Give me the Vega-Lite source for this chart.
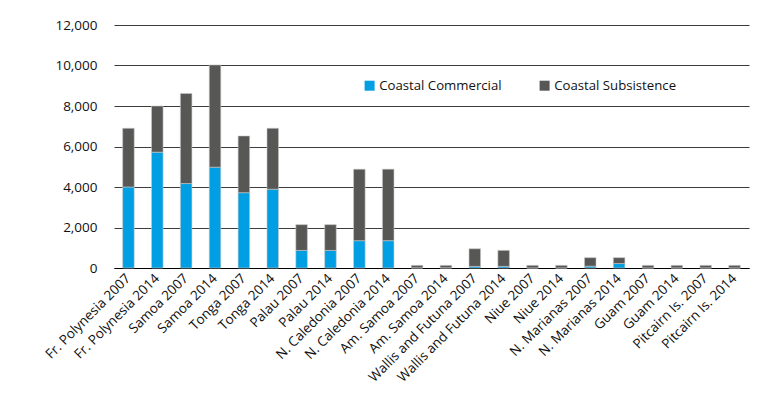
{
  "$schema": "https://vega.github.io/schema/vega-lite/v6.json",
  "autosize": {"type": "none"},
  "width": 635,
  "height": 243,
  "padding": {"left": 114, "top": 25, "right": 25, "bottom": 130},
  "background": "white",
  "config": {
    "font": "Open Sans",
    "view": {"stroke": null},
    "axis": {"labelFont": "Open Sans", "labelColor": "#111111", "labelFontSize": 13.5}
  },
  "data": {
    "values": [
      {"site": "Fr. Polynesia 2007", "type": "Coastal Commercial", "value": 4000, "k": 1},
      {"site": "Fr. Polynesia 2007", "type": "Coastal Subsistence", "value": 2900, "k": 2},
      {"site": "Fr. Polynesia 2014", "type": "Coastal Commercial", "value": 5720, "k": 1},
      {"site": "Fr. Polynesia 2014", "type": "Coastal Subsistence", "value": 2280, "k": 2},
      {"site": "Samoa 2007", "type": "Coastal Commercial", "value": 4170, "k": 1},
      {"site": "Samoa 2007", "type": "Coastal Subsistence", "value": 4450, "k": 2},
      {"site": "Samoa 2014", "type": "Coastal Commercial", "value": 4980, "k": 1},
      {"site": "Samoa 2014", "type": "Coastal Subsistence", "value": 5050, "k": 2},
      {"site": "Tonga 2007", "type": "Coastal Commercial", "value": 3720, "k": 1},
      {"site": "Tonga 2007", "type": "Coastal Subsistence", "value": 2800, "k": 2},
      {"site": "Tonga 2014", "type": "Coastal Commercial", "value": 3890, "k": 1},
      {"site": "Tonga 2014", "type": "Coastal Subsistence", "value": 3010, "k": 2},
      {"site": "Palau 2007", "type": "Coastal Commercial", "value": 870, "k": 1},
      {"site": "Palau 2007", "type": "Coastal Subsistence", "value": 1270, "k": 2},
      {"site": "Palau 2014", "type": "Coastal Commercial", "value": 870, "k": 1},
      {"site": "Palau 2014", "type": "Coastal Subsistence", "value": 1270, "k": 2},
      {"site": "N. Caledonia 2007", "type": "Coastal Commercial", "value": 1350, "k": 1},
      {"site": "N. Caledonia 2007", "type": "Coastal Subsistence", "value": 3530, "k": 2},
      {"site": "N. Caledonia 2014", "type": "Coastal Commercial", "value": 1350, "k": 1},
      {"site": "N. Caledonia 2014", "type": "Coastal Subsistence", "value": 3530, "k": 2},
      {"site": "Am. Samoa 2007", "type": "Coastal Commercial", "value": 10, "k": 1},
      {"site": "Am. Samoa 2007", "type": "Coastal Subsistence", "value": 120, "k": 2},
      {"site": "Am. Samoa 2014", "type": "Coastal Commercial", "value": 10, "k": 1},
      {"site": "Am. Samoa 2014", "type": "Coastal Subsistence", "value": 120, "k": 2},
      {"site": "Wallis and Futuna 2007", "type": "Coastal Commercial", "value": 80, "k": 1},
      {"site": "Wallis and Futuna 2007", "type": "Coastal Subsistence", "value": 870, "k": 2},
      {"site": "Wallis and Futuna 2014", "type": "Coastal Commercial", "value": 80, "k": 1},
      {"site": "Wallis and Futuna 2014", "type": "Coastal Subsistence", "value": 790, "k": 2},
      {"site": "Niue 2007", "type": "Coastal Commercial", "value": 5, "k": 1},
      {"site": "Niue 2007", "type": "Coastal Subsistence", "value": 125, "k": 2},
      {"site": "Niue 2014", "type": "Coastal Commercial", "value": 5, "k": 1},
      {"site": "Niue 2014", "type": "Coastal Subsistence", "value": 125, "k": 2},
      {"site": "N. Marianas 2007", "type": "Coastal Commercial", "value": 90, "k": 1},
      {"site": "N. Marianas 2007", "type": "Coastal Subsistence", "value": 420, "k": 2},
      {"site": "N. Marianas 2014", "type": "Coastal Commercial", "value": 220, "k": 1},
      {"site": "N. Marianas 2014", "type": "Coastal Subsistence", "value": 290, "k": 2},
      {"site": "Guam 2007", "type": "Coastal Commercial", "value": 5, "k": 1},
      {"site": "Guam 2007", "type": "Coastal Subsistence", "value": 125, "k": 2},
      {"site": "Guam 2014", "type": "Coastal Commercial", "value": 5, "k": 1},
      {"site": "Guam 2014", "type": "Coastal Subsistence", "value": 125, "k": 2},
      {"site": "Pitcairn Is. 2007", "type": "Coastal Commercial", "value": 5, "k": 1},
      {"site": "Pitcairn Is. 2007", "type": "Coastal Subsistence", "value": 125, "k": 2},
      {"site": "Pitcairn Is. 2014", "type": "Coastal Commercial", "value": 5, "k": 1},
      {"site": "Pitcairn Is. 2014", "type": "Coastal Subsistence", "value": 125, "k": 2}
    ]
  },
  "mark": {"type": "bar", "stroke": "#c8c8c8", "strokeWidth": 0.6},
  "encoding": {
    "x": {
      "field": "site",
      "type": "nominal",
      "sort": null,
      "scale": {"paddingInner": 0.6, "paddingOuter": 0.3},
      "axis": {
        "title": null,
        "labelAngle": -45,
        "labelAlign": "right",
        "labelBaseline": "middle",
        "ticks": false,
        "domain": true,
        "domainColor": "#000000",
        "domainWidth": 1.2,
        "labelPadding": 8
      }
    },
    "y": {
      "field": "value",
      "type": "quantitative",
      "stack": "zero",
      "scale": {"domain": [0, 12000], "nice": false},
      "axis": {
        "title": null,
        "values": [0, 2000, 4000, 6000, 8000, 10000, 12000],
        "format": ",.0f",
        "grid": true,
        "gridColor": "#3c3c3c",
        "gridWidth": 1,
        "domain": false,
        "ticks": false,
        "labelPadding": 17
      }
    },
    "color": {
      "field": "type",
      "type": "nominal",
      "scale": {"domain": ["Coastal Commercial", "Coastal Subsistence"], "range": ["#009fe3", "#575756"]},
      "legend": {
        "title": null,
        "orient": "none",
        "direction": "horizontal",
        "legendX": 249,
        "legendY": 54,
        "symbolType": "square",
        "symbolSize": 100,
        "symbolStrokeWidth": 0,
        "labelFont": "Open Sans",
        "labelFontSize": 13.2,
        "labelColor": "#111111",
        "columnPadding": 36,
        "symbolOffset": 0,
        "labelOffset": 3
      }
    },
    "order": {"field": "k", "type": "quantitative"}
  }
}
